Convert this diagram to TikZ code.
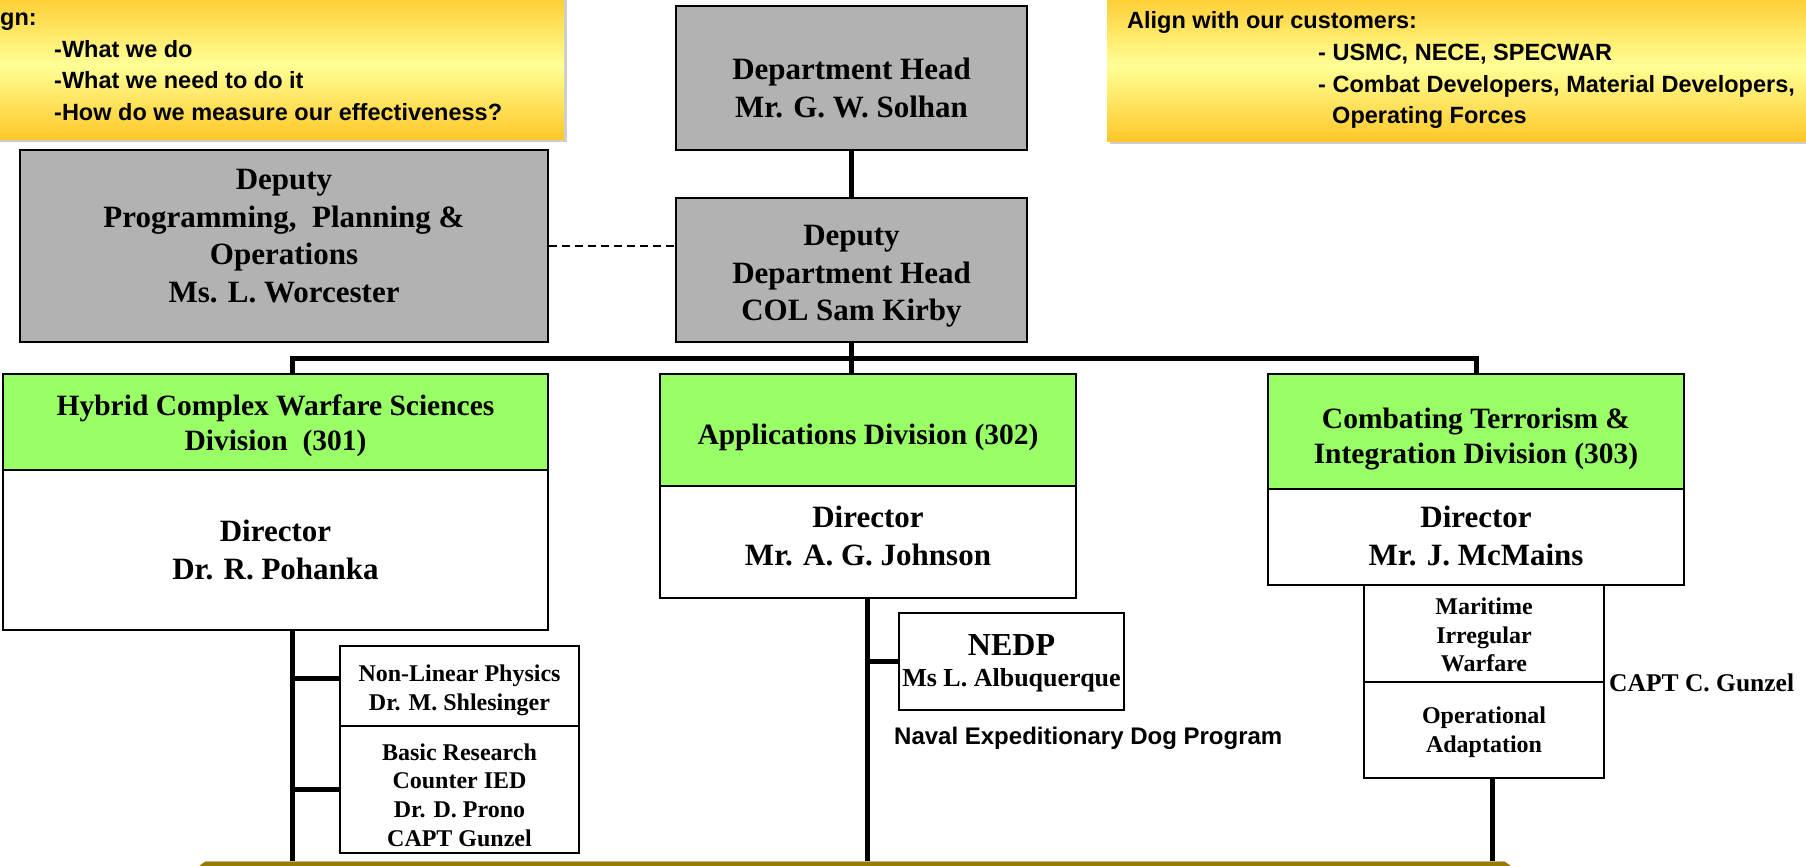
\documentclass[tikz,border=0pt]{standalone}
\usepackage{fontspec}
\setmainfont{Liberation Serif}
\newfontfamily\arialfont{Liberation Sans}
\usetikzlibrary{calc}
\definecolor{boxgrey}{RGB}{178,178,178}
\definecolor{divgreen}{RGB}{153,255,102}
\definecolor{goldy}{RGB}{255,200,40}
\definecolor{paleyellow}{RGB}{255,255,150}
\definecolor{bandolive}{RGB}{152,122,4}
\definecolor{shadowgrey}{RGB}{205,205,205}
\begin{document}
\begin{tikzpicture}[x=1pt,y=-1pt,
 box/.style={draw=black, line width=2.5pt, inner sep=0pt},
 greybox/.style={box, fill=boxgrey},
 greenbox/.style={box, fill=divgreen},
 whitebox/.style={box, fill=white},
 subbox/.style={draw=black, line width=2pt, fill=white, inner sep=0pt},
 conn/.style={line width=5pt},
 ttxt/.style={font=\bfseries\fontsize{31}{37.5}\selectfont, align=center, inner sep=0pt},
 htxt/.style={font=\bfseries\fontsize{29.5}{35}\selectfont, align=center, inner sep=0pt},
 stxt/.style={font=\bfseries\fontsize{24}{28.7}\selectfont, align=center, inner sep=0pt},
 ytxt/.style={font=\arialfont\bfseries\fontsize{23.5}{31.7}\selectfont, inner sep=0pt, anchor=base west},
 yellowbox/.style={top color=goldy, bottom color=goldy, middle color=paleyellow, draw=none},
]
\path[use as bounding box] (0,0) rectangle (1806,865);
\clip (0,0) rectangle (1806,865);

% yellow boxes
\fill[shadowgrey] (-10,-10) rectangle (567,142);
\path[yellowbox] (-10,-10) rectangle (564,139);
\fill[shadowgrey] (1110,-10) rectangle (1816,144);
\path[yellowbox] (1107,-10) rectangle (1816,141);

\node[ytxt] (yl1) at (-30,25) {Align:};
\node[ytxt] (yl2) at (54,57) {-What we do};
\node[ytxt] (yl3) at (54,88) {-What we need to do it};
\node[ytxt] (yl4) at (54,120) {-How do we measure our effectiveness?};

\node[ytxt] (yr1) at (1127,28) {Align with our customers:};
\node[ytxt] (yr2) at (1318,60) {- USMC, NECE, SPECWAR};
\node[ytxt] (yr3) at (1318,92) {- Combat Developers, Material Developers,};
\node[ytxt] (yr4) at (1332,123) {Operating Forces};

% top boxes
\node[greybox, minimum width=351pt, minimum height=144pt] (head) at (851.5,78) {};
\node[greybox, minimum width=351pt, minimum height=144pt] (dep) at (851.5,270) {};
\node[greybox, minimum width=528pt, minimum height=192pt] (ppo) at (284,246) {};

\node[ttxt] (headT) at (851.5,88) {Department Head\\Mr. G. W. Solhan};
\node[ttxt] (depT) at (851.5,276.5) {Deputy\\Department Head\\COL Sam Kirby};
\node[ttxt] (ppoT) at (284,236) {Deputy\\Programming,\ \ Planning \&\\Operations\\Ms. L. Worcester};

% divisions
\node[greenbox, minimum width=545pt, minimum height=96pt] (div1h) at (275.5,422) {};
\node[whitebox, minimum width=545pt, minimum height=160pt] (div1b) at (275.5,550) {};
\node[greenbox, minimum width=416pt, minimum height=112pt] (div2h) at (868,430) {};
\node[whitebox, minimum width=416pt, minimum height=112pt] (div2b) at (868,542) {};
\node[greenbox, minimum width=416pt, minimum height=115pt] (div3h) at (1476,431.5) {};
\node[whitebox, minimum width=416pt, minimum height=96pt] (div3b) at (1476,537) {};

\node[htxt] (div1hT) at (275.5,425.5) {Hybrid Complex Warfare Sciences\\Division\ \ (301)};
\node[ttxt] (div1bT) at (275.5,550) {Director\\Dr. R. Pohanka};
\node[htxt] (div2hT) at (868,437.5) {Applications Division (302)};
\node[ttxt] (div2bT) at (868,536) {Director\\Mr. A. G. Johnson};
\node[htxt] (div3hT) at (1476,439.5) {Combating Terrorism \&\\Integration Division (303)};
\node[ttxt] (div3bT) at (1476,536) {Director\\Mr. J. McMains};

% connectors top
\coordinate (busL) at (292,358);
\coordinate (busR) at (1476,358);
\draw[conn] (head.south) -- (dep.north);
\draw[conn] (dep.south) -- (dep.south |- busL);
\draw[conn, line cap=rect] (busL |- div1h.north) -- (busL) -- (busR) -- (busR |- div3h.north);
\draw[conn] (dep.south |- busL) -- (dep.south |- div2h.north);
\draw[line width=1.6pt, dash pattern=on 8pt off 5pt] (ppo.east) -- (ppo.east -| dep.west);

% sub boxes
\node[subbox, minimum width=239pt, minimum height=80pt] (s1a) at (459.5,686) {};
\node[subbox, minimum width=239pt, minimum height=127pt] (s1b) at (459.5,789.5) {};
\node[subbox, minimum width=225pt, minimum height=97pt] (nedp) at (1011.5,661.5) {};
\node[subbox, minimum width=240pt, minimum height=97pt] (s3a) at (1484,633.5) {};
\node[subbox, minimum width=240pt, minimum height=96pt] (s3b) at (1484,730) {};

\node[stxt] (s1aT) at (459.5,690) {Non-Linear Physics\\Dr. M. Shlesinger};
\node[stxt] (s1bT) at (459.5,795) {Basic Research\\Counter IED\\Dr. D. Prono\\CAPT Gunzel};
\node[inner sep=0pt, font=\bfseries\fontsize{32}{36}\selectfont] (nedpT1) at (1011.5,645) {NEDP};
\node[inner sep=0pt, font=\bfseries\fontsize{26}{30}\selectfont] (nedpT2) at (1011.5,680) {Ms L. Albuquerque};
\node[stxt] (s3aT) at (1484,635) {Maritime\\Irregular\\Warfare};
\node[stxt] (s3bT) at (1484,732) {Operational\\Adaptation};
\node[inner sep=0pt, anchor=west, font=\bfseries\fontsize{25.5}{30}\selectfont] (capt) at (1609,683) {CAPT C. Gunzel};
\node[inner sep=0pt, anchor=west, font=\arialfont\bfseries\fontsize{24}{28}\selectfont] (naval) at (894,738) {Naval Expeditionary Dog Program};

% lower connectors
\coordinate (end1) at (292,865);
\coordinate (end2) at (867,865);
\coordinate (end3) at (1492,865);
\draw[conn] (end1 |- div1b.south) -- (end1);
\draw[conn] (end1 |- s1a.west) ++(0,-8) -- ($(s1a.west)+(0,-8)$);
\draw[conn] (end1 |- s1b.west) -- (s1b.west);
\draw[conn] (end2 |- div2b.south) -- (end2);
\draw[conn] (end2 |- nedp.west) -- (nedp.west);
\draw[conn] (end3 |- s3b.south) -- (end3);

% bottom band
\fill[bandolive, rounded corners=14pt] (196,861) rectangle (1514,910);
\draw[line width=1pt, color={rgb,255:red,190;green,180;blue,150}] (205,861) -- (1505,861);
\end{tikzpicture}
\end{document}
